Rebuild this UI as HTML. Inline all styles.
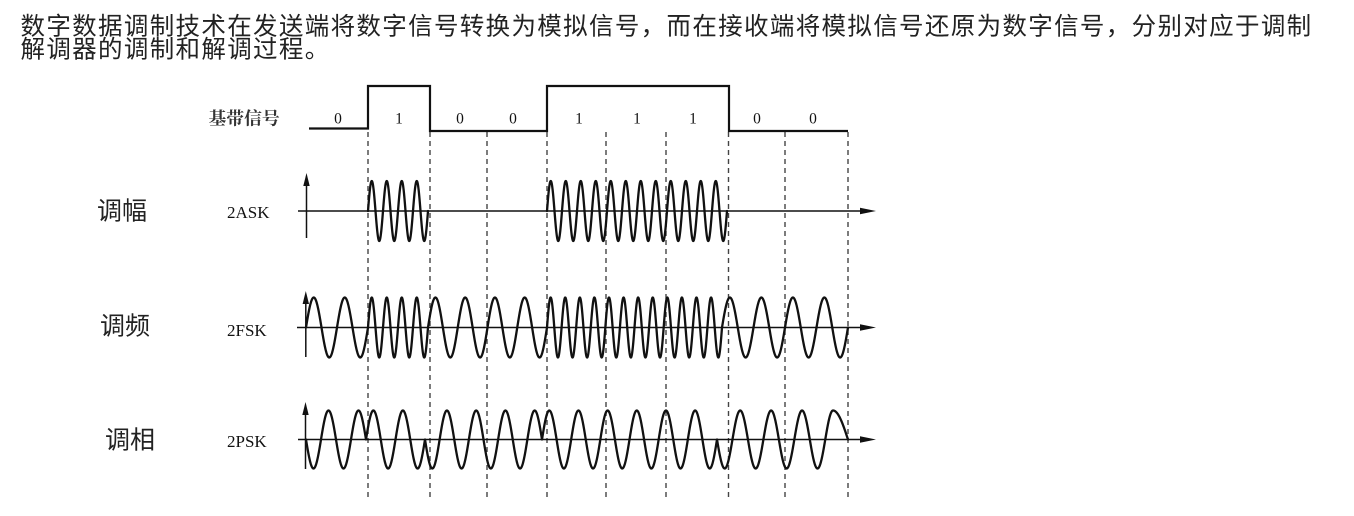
<!DOCTYPE html>
<html>
<head>
<meta charset="utf-8">
<style>
html,body{margin:0;padding:0;background:#fff;width:1354px;height:516px;overflow:hidden}
svg{display:block}
</style>
</head>
<body>
<svg width="1354" height="516" viewBox="0 0 1354 516" xmlns="http://www.w3.org/2000/svg">
  <rect width="1354" height="516" fill="#fff"/>
  <!-- header text -->
  <g font-family="'Liberation Sans','Noto Sans CJK SC',sans-serif" font-size="24.5" letter-spacing="1.34" fill="#222">
    <text x="20.5" y="34.5">数字数据调制技术在发送端将数字信号转换为模拟信号，而在接收端将模拟信号还原为数字信号，分别对应于调制</text>
    <text x="20.5" y="57.5">解调器的调制和解调过程。</text>
  </g>
  <!-- left labels -->
  <g font-family="'Liberation Sans','Noto Sans CJK SC',sans-serif" font-size="25" fill="#222">
    <text x="97" y="219.5">调幅</text>
    <text x="100" y="334.5">调频</text>
    <text x="105" y="448.5">调相</text>
  </g>
  <text x="208.5" y="124.5" font-family="'Liberation Serif','Noto Serif CJK SC',serif" font-size="17.8" font-weight="bold" fill="#333">基带信号</text>
  <g font-family="'Liberation Serif',serif" font-size="17" fill="#111">
    <text x="227" y="218">2ASK</text>
    <text x="227" y="336">2FSK</text>
    <text x="227" y="447">2PSK</text>
  </g>
  <g font-family="'Liberation Serif',serif" font-size="15.5" fill="#111" text-anchor="middle">
    <text x="338" y="123.5">0</text>
    <text x="399" y="123.5">1</text>
    <text x="460" y="123.5">0</text>
    <text x="513" y="123.5">0</text>
    <text x="579" y="123.5">1</text>
    <text x="637" y="123.5">1</text>
    <text x="693" y="123.5">1</text>
    <text x="757" y="123.5">0</text>
    <text x="813" y="123.5">0</text>
  </g>
  <!-- dashed lines -->
  <g stroke="#444" stroke-width="1.4" stroke-dasharray="5 4" fill="none">
    <line x1="368" y1="132" x2="368" y2="499"/>
    <line x1="430" y1="132" x2="430" y2="499"/>
    <line x1="487" y1="132" x2="487" y2="499"/>
    <line x1="547" y1="132" x2="547" y2="499"/>
    <line x1="606" y1="132" x2="606" y2="499"/>
    <line x1="666" y1="132" x2="666" y2="499"/>
    <line x1="728.5" y1="132" x2="728.5" y2="499"/>
    <line x1="785" y1="132" x2="785" y2="499"/>
    <line x1="848" y1="132" x2="848" y2="499"/>
  </g>
  <!-- baseband -->
  <path d="M309 128.5 H368 V86 H430 V131 H547 V86 H729 V131 H848" fill="none" stroke="#111" stroke-width="2.2"/>
  <!-- axes -->
  <g stroke="#111" stroke-width="1.5" fill="none">
    <line x1="298" y1="211" x2="862" y2="211"/>
    <line x1="297" y1="327.5" x2="862" y2="327.5"/>
    <line x1="298" y1="439.5" x2="862" y2="439.5"/>
    <line x1="306.5" y1="238" x2="306.5" y2="183"/>
    <line x1="305.8" y1="357" x2="305.8" y2="300"/>
    <line x1="305.5" y1="469" x2="305.5" y2="411"/>
  </g>
  <g fill="#111">
    <polygon points="876,211 860,207.8 860,214.2"/>
    <polygon points="876,327.5 860,324.3 860,330.7"/>
    <polygon points="876,439.5 860,436.3 860,442.7"/>
    <polygon points="306.5,173 303.3,186 309.7,186"/>
    <polygon points="305.8,291 302.6,304 309,304"/>
    <polygon points="305.5,402 302.3,415 308.7,415"/>
  </g>
  <!-- waves -->
  <g fill="none" stroke="#111" stroke-width="2.3" stroke-linejoin="round" stroke-linecap="round">
    <path id="ask" d=""/>
    <path id="fsk" d=""/>
    <path id="psk" d=""/>
  </g>
</svg>
<script>
(function(){
  function build(axis, amp, segs, continuous){
    var d = '', first = true;
    for (var i=0;i<segs.length;i++){
      var s = segs[i];
      var step = 0.25;
      for (var x = s.x0; x <= s.x1 + 1e-6; x += step){
        var ph = s.ph ? s.ph(x) : s.c*(x - s.x0)/(s.x1 - s.x0);
        var y = axis - s.sg*amp*Math.sin(2*Math.PI*ph);
        var cmd = (first || (!continuous && x === s.x0)) ? 'M' : 'L';
        d += cmd + x.toFixed(2) + ' ' + y.toFixed(2) + ' ';
        first = false;
      }
    }
    return d;
  }
  document.getElementById('ask').setAttribute('d', build(211, 30, [
    {x0:368,x1:428,c:4,sg:1},
    {x0:547,x1:727,c:12,sg:1}
  ], false));
  document.getElementById('fsk').setAttribute('d', build(327.5, 30, [
    {x0:306,x1:368,c:2,sg:1},
    {x0:368,x1:428,c:4,sg:1},
    {x0:428,x1:547,c:4,sg:1},
    {x0:547,x1:722,c:12,sg:1},
    {x0:722,x1:848,c:4,sg:1}
  ], true));
  document.getElementById('psk').setAttribute('d', build(439.5, 29, [
    {x0:306,x1:366,c:2,sg:-1},
    {x0:366,x1:425,c:2,sg:1},
    {x0:425,x1:542,c:4,sg:-1},
    {x0:542,x1:717,c:6,sg:1},
    {x0:717,x1:848,c:4,sg:-1,ph:function(x){ return x<833 ? 3.75*(x-717)/116 : 3.75+0.25*(x-833)/15; }}
  ], true));
})();
</script>
</body>
</html>
